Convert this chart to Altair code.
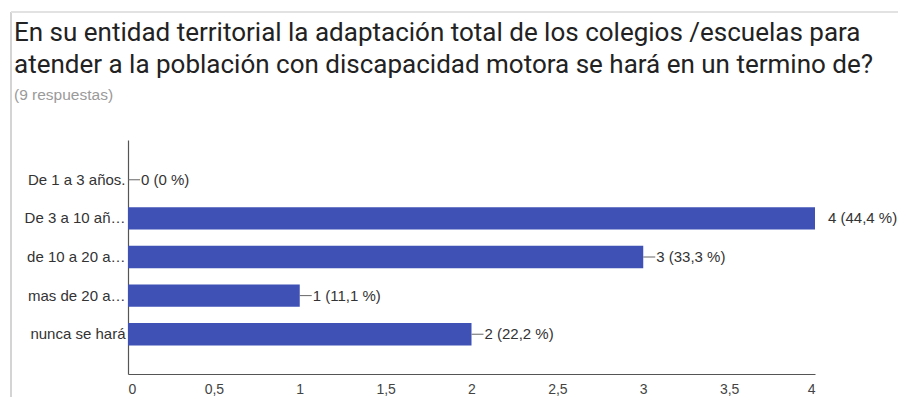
import altair as alt
import pandas as pd

categories = ["De 1 a 3 años.", "De 3 a 10 añ…", "de 10 a 20 a…", "mas de 20 a…", "nunca se hará"]
counts = [0, 4, 3, 1, 2]
labels = ["0 (0 %)", "4 (44,4 %)", "3 (33,3 %)", "1 (11,1 %)", "2 (22,2 %)"]
x_ticks = [0, 0.5, 1, 1.5, 2, 2.5, 3, 3.5, 4]

title_lines = [
    "En su entidad territorial la adaptación total de los colegios /escuelas para",
    "atender a la población con discapacidad motora se hará en un termino de?",
]
subtitle = "\u00a0(9 respuestas)"

df = pd.DataFrame({"cat": categories, "n": counts, "label": labels})

W, H = 687, 234
LABEL_FONT = "Liberation Sans"

x_scale = alt.Scale(domain=[0, 4], nice=False)
y_scale = alt.Scale(domain=categories, paddingInner=0.42, paddingOuter=0.74)

base = alt.Chart(df)

bars = base.mark_bar(color="#3F51B5").encode(
    x=alt.X("n:Q", scale=x_scale,
            axis=alt.Axis(title=None, values=x_ticks, grid=False, ticks=False,
                          labelExpr="replace(format(datum.value, '~g'), '.', ',')",
                          labelFont=LABEL_FONT, labelFontSize=14, labelColor="#444",
                          labelPadding=8, domainColor="#555", domainWidth=1.2)),
    y=alt.Y("cat:N", scale=y_scale, sort=categories,
            axis=alt.Axis(title=None, ticks=False, grid=False,
                          labelFont=LABEL_FONT, labelFontSize=15, labelColor="#333",
                          labelPadding=3, labelLimit=200,
                          domainColor="#555", domainWidth=1.2)),
)

connectors = base.transform_filter("datum.n < 4").mark_rule(
    color="#666", strokeWidth=1, x2Offset=12
).encode(
    x=alt.X("n:Q", scale=x_scale),
    x2="n:Q",
    y=alt.Y("cat:N", scale=y_scale, sort=categories, bandPosition=0.5),
)

texts = base.mark_text(
    align="left", baseline="middle", dx=13, font=LABEL_FONT, fontSize=15, color="#333"
).encode(
    x=alt.X("n:Q", scale=x_scale),
    y=alt.Y("cat:N", scale=y_scale, sort=categories),
    text="label:N",
)

frame_v = alt.Chart(pd.DataFrame({"k": [0]})).mark_rule(color="#d4d4d4", strokeWidth=2).encode(
    x=alt.value(-117), y=alt.value(-128), y2=alt.value(270)
)
frame_h = alt.Chart(pd.DataFrame({"k": [0]})).mark_rule(color="#e2e2e2", strokeWidth=2).encode(
    x=alt.value(-117), x2=alt.value(790), y=alt.value(-128)
)

chart = alt.layer(frame_v, frame_h, bars, connectors, texts).properties(
    width=W, height=H,
    autosize=alt.AutoSizeParams(type="none"),
    padding={"left": 120, "top": 132, "right": 83, "bottom": 23},
    title=alt.TitleParams(
        text=title_lines, subtitle=subtitle,
        anchor="start", frame="group", dx=-114, offset=0, dy=92,
        font="Roboto", fontSize=26, fontWeight="normal", color="#222", lineHeight=32,
        subtitleFont=LABEL_FONT, subtitleFontSize=15.5, subtitleColor="#9a9a9a",
        subtitlePadding=10,
    ),
).configure(background="white", view=alt.ViewConfig(strokeWidth=0))

chart.save("out.html", embed_options={"renderer": "svg", "actions": False})
